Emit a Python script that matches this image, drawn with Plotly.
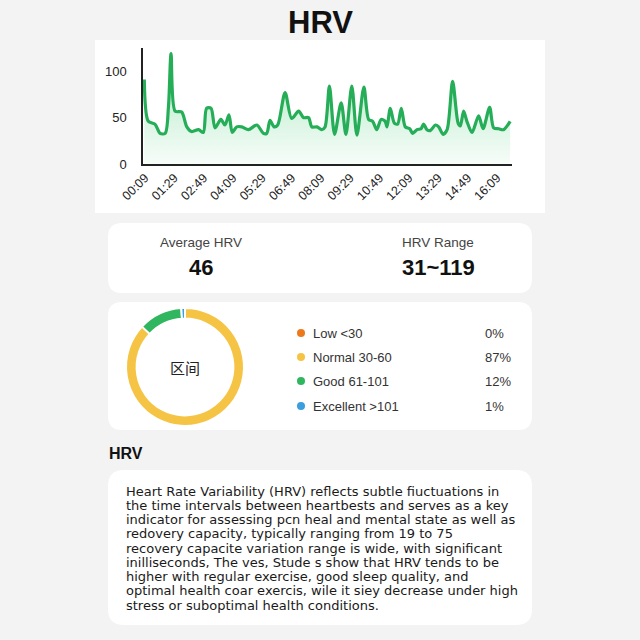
import plotly.graph_objects as go

# ---------------- data ----------------
minutes = [7, 18, 36, 50, 64, 73, 80, 91, 109, 123, 136, 155, 168, 177, 189, 200, 216, 227, 238, 247,
           259, 273, 291, 314, 332, 341, 350, 361, 371, 391, 409, 428, 441, 455, 464, 478, 491, 500, 512, 526,
           544, 557, 573, 587, 606, 619, 630, 641, 653, 664, 669, 678, 689, 698, 708, 719, 731, 739, 751, 762,
           769, 778, 787, 801, 810, 822, 833, 848, 863, 869, 878, 887, 901, 919, 931, 949, 960, 974, 987, 1005]
hrv = [91, 46, 43, 33, 33, 62, 119, 57, 56, 40, 35, 37, 34, 60, 60, 39, 48, 42, 53, 34,
       40, 40, 37, 42, 33, 33, 47, 40, 42, 77, 49, 57, 50, 50, 40, 40, 37, 40, 84, 32,
       66, 32, 84, 31, 83, 48, 46, 37, 48, 46, 40, 60, 44, 43, 60, 40, 38, 33, 37, 38,
       43, 37, 36, 42, 40, 32, 37, 89, 44, 41, 57, 46, 34, 52, 38, 61, 39, 38, 37, 46]
tick_minutes = [9, 89, 169, 249, 329, 409, 489, 569, 649, 729, 809, 889, 969]
tick_labels = ["00:09", "01:29", "02:49", "04:09", "05:29", "06:49", "08:09",
               "09:29", "10:49", "12:09", "13:29", "14:49", "16:09"]

zone_labels = ["Low <30", "Normal 30-60", "Good 61-101", "Excellent >101"]
zone_pcts = [0, 87, 12, 1]
zone_colors = ["#ec7a1c", "#f6c445", "#2fb65e", "#3a9fdc"]

avg_hrv = 46
hrv_min, hrv_max = 31, 119

body_lines = [
    "Heart Rate Variability (HRV) reflects subtle fiuctuations in",
    "the time intervals between heartbests and serves as a key",
    "indicator for assessing pcn heal and mental state as well as",
    "redovery capacity, typically ranging from 19 to 75",
    "recovery capacite variation range is wide, with significant",
    "inilliseconds, The ves, Stude s show that HRV tends to be",
    "higher with regular exercise, good sleep quality, and",
    "optimal health coar exercis, wile it siey decrease under high",
    "stress or suboptimal health conditions.",
]

W = H = 640
FONT = "Liberation Sans, Arial, sans-serif"
BODY_FONT = "DejaVu Sans, Verdana, sans-serif"


def px(x):
    return x / W


def py(y):
    return 1 - y / H


def rrect(x0, y0, x1, y1, r):
    X0, X1 = px(x0), px(x1)
    Y0, Y1 = py(y0), py(y1)
    rx, ry = r / W, r / H
    return (f"M {X0+rx},{Y0} L {X1-rx},{Y0} Q {X1},{Y0} {X1},{Y0-ry} "
            f"L {X1},{Y1+ry} Q {X1},{Y1} {X1-rx},{Y1} L {X0+rx},{Y1} "
            f"Q {X0},{Y1} {X0},{Y1+ry} L {X0},{Y0-ry} Q {X0},{Y0} {X0+rx},{Y0} Z")


def ann(text, x, y, size, color="#222", xanchor="center", family=FONT):
    return dict(text=text, x=px(x), y=py(y), xref="paper", yref="paper", showarrow=False,
                xanchor=xanchor, yanchor="middle", font=dict(size=size, color=color, family=family))


fig = go.Figure()

fig.add_trace(go.Scatter(
    x=minutes, y=hrv, mode="lines",
    line=dict(color="#25ad58", width=3.2, shape="spline", smoothing=0.8),
    fill="tozeroy",
    fillgradient=dict(type="vertical",
                      colorscale=[[0, "rgba(60,200,110,0.04)"], [1, "rgba(60,200,110,0.42)"]]),
    hoverinfo="skip", showlegend=False,
))

fig.add_trace(go.Pie(
    labels=zone_labels, values=[max(v, 0.0001) for v in zone_pcts],
    marker=dict(colors=zone_colors, line=dict(color="white", width=2)),
    hole=0.82, sort=False, direction="clockwise", rotation=0,
    textinfo="none", hoverinfo="skip", showlegend=False,
    domain=dict(x=[px(126), px(244)], y=[py(426), py(308)]),
))

shapes = []
annotations = []

# chart card
shapes.append(dict(type="rect", xref="paper", yref="paper", x0=px(95), x1=px(545), y0=py(213), y1=py(40),
                   fillcolor="white", line=dict(width=0), layer="below"))
# stats card
shapes.append(dict(type="path", xref="paper", yref="paper", path=rrect(108, 223, 532, 293, 14),
                   fillcolor="white", line=dict(width=0), layer="below"))
# donut card
shapes.append(dict(type="path", xref="paper", yref="paper", path=rrect(108, 302, 532, 430, 14),
                   fillcolor="white", line=dict(width=0), layer="below"))
# text card
shapes.append(dict(type="path", xref="paper", yref="paper", path=rrect(108, 470, 532, 625, 16),
                   fillcolor="white", line=dict(width=0), layer="below"))

# title
annotations.append(ann("<b>HRV</b>", 320, 23, 31, "#111"))

# stats
annotations += [
    ann("Average HRV", 201, 243, 13.5, "#444"),
    ann(f"<b>{avg_hrv}</b>", 201, 267, 22, "#111"),
    ann("HRV Range", 438, 243, 13.5, "#444"),
    ann(f"<b>{hrv_min}~{hrv_max}</b>", 438, 267, 22, "#111"),
]

# donut center
annotations.append(ann("区间", 185, 367, 15, "#222", family="Noto Sans CJK SC"))

# legend
row_y = [333, 357, 381, 406]
for lab, pct, col, yy in zip(zone_labels, zone_pcts, zone_colors, row_y):
    shapes.append(dict(type="circle", xref="paper", yref="paper",
                       x0=px(297), x1=px(305), y0=py(yy + 4), y1=py(yy - 4),
                       fillcolor=col, line=dict(width=0)))
    annotations.append(ann(lab, 311, yy, 13, "#333", xanchor="left"))
    annotations.append(ann(f"{pct}%", 483, yy, 13, "#333", xanchor="left"))

# section header
annotations.append(ann("<b>HRV</b>", 107, 453, 16, "#111", xanchor="left"))

# body text
for i, line in enumerate(body_lines):
    annotations.append(ann(line, 124, 491 + i * 14.25, 13, "#1a1a1a", xanchor="left", family=BODY_FONT))

fig.update_layout(
    width=W, height=H, margin=dict(l=0, r=0, t=0, b=0),
    paper_bgcolor="#f3f3f3", plot_bgcolor="rgba(0,0,0,0)",
    shapes=shapes, annotations=annotations,
    xaxis=dict(domain=[px(143), px(512)], range=[3.5, 1010], tickvals=tick_minutes, ticktext=tick_labels,
               tickangle=-45, showgrid=False, zeroline=False, showline=True, linecolor="#222", linewidth=1.5,
               ticks="", automargin=False,
               tickfont=dict(size=12.5, color="#222", family=FONT), fixedrange=True),
    yaxis=dict(domain=[py(164), py(48)], range=[0, 125], tickvals=[0, 50, 100], showgrid=False,
               zeroline=False, showline=True, linecolor="#222", linewidth=1.5, ticks="", automargin=False,
               ticklabelstandoff=12, tickfont=dict(size=13, color="#222", family=FONT), fixedrange=True),
    font=dict(family=FONT),
)

fig.write_html("out.html")
